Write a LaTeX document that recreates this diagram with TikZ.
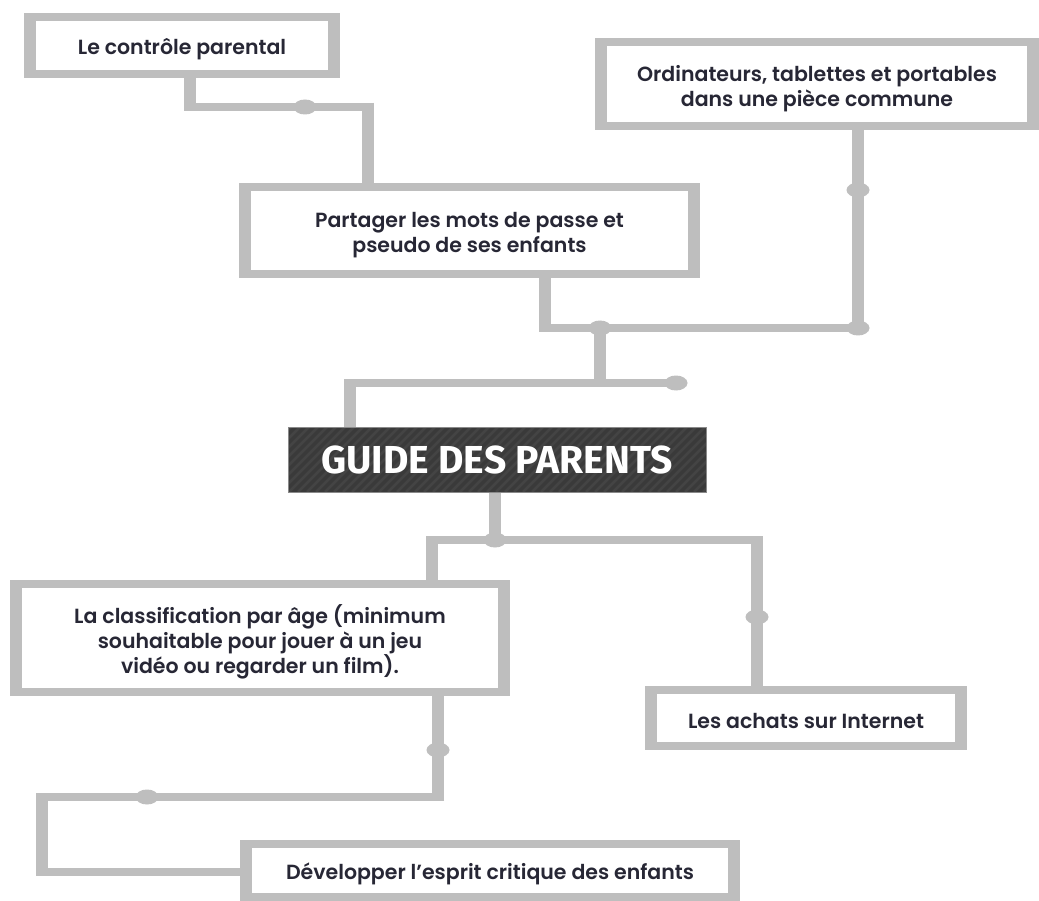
\documentclass[tikz,border=0pt]{standalone}
\usepackage{fontspec}
\setmainfont{Poppins}[BoldFont={Poppins SemiBold}]
\newfontfamily\titlefont{Fira Sans}
\usetikzlibrary{shapes.geometric}

\definecolor{linegray}{HTML}{BEBEBE}
\definecolor{ink}{HTML}{272735}
\definecolor{slate}{HTML}{3A3A3A}
\definecolor{slatestripe}{HTML}{444444}
\definecolor{slateedge}{HTML}{8A8A8A}

\tikzset{
  card/.style={fill=linegray, inner sep=0pt,
    path picture={\fill[white]
      ([xshift=12pt,yshift=-8pt]path picture bounding box.north west) rectangle
      ([xshift=-12pt,yshift=8pt]path picture bounding box.south east);}},
  cardtext/.style={inner sep=0pt, align=center, text=ink,
    font=\bfseries\fontsize{20.5}{25}\selectfont},
  banner/.style={fill=slate, draw=slateedge, line width=1pt, inner sep=0pt,
    text=white, font=\titlefont\bfseries\fontsize{39}{44}\selectfont,
    path picture={\foreach \s in {-80,-71,...,440}{
      \draw[slatestripe, line width=2.5pt]
        ([xshift=\s pt]path picture bounding box.south west) -- ++(80pt,80pt);}}},
  vseg/.style={draw=linegray, line width=12pt},
  hseg/.style={draw=linegray, line width=8pt},
  knob/.style={ellipse, fill=linegray, inner sep=0pt,
    minimum width=23pt, minimum height=15pt},
}

\begin{document}
\begin{tikzpicture}[x=1pt,y=-1pt]
\useasboundingbox (0,0) rectangle (1039,901);
\fill[white] (0,0) rectangle (1039,901);

% framed boxes and their captions
\node[card, minimum width=316pt, minimum height=65pt] (ctrl) at (182,45.5) {};
\node[cardtext] (ctrl-txt) at ([yshift=-4pt]ctrl.center)
  {Le contrôle parental};
\node[card, minimum width=461pt, minimum height=95pt] (share) at (469.5,230.5) {};
\node[cardtext] (share-txt) at ([yshift=-5pt]share.center)
  {Partager les mots de passe et\\pseudo de ses enfants};
\node[card, minimum width=444pt, minimum height=92pt] (screens) at (817,84) {};
\node[cardtext] (screens-txt) at ([yshift=-5pt]screens.center)
  {Ordinateurs, tablettes et portables\\dans une pièce commune};
\node[banner, minimum width=418pt, minimum height=65pt] (guide) at (497,459.5)
  {GUIDE DES PARENTS};
\node[card, minimum width=500pt, minimum height=116pt] (age) at (260,638) {};
\node[cardtext] (age-txt) at ([yshift=-4pt]age.center)
  {La classification par âge (minimum\\souhaitable pour jouer à un jeu\\vidéo ou regarder un film).};
\node[card, minimum width=322pt, minimum height=64pt] (web) at (806,718) {};
\node[cardtext] (web-txt) at ([yshift=-3pt]web.center)
  {Les achats sur Internet};
\node[card, minimum width=500pt, minimum height=61pt] (critic) at (490,870.5) {};
\node[cardtext] (critic-txt) at ([yshift=-3pt]critic.center)
  {Développer l’esprit critique des enfants};

% corners and junctions of the connectors
\coordinate (k1) at (190,107);
\coordinate (k2) at (368,107);
\coordinate (k3) at (545,328);
\coordinate (k4) at (858,328);
\coordinate (j2) at (600,328);
\coordinate (k5) at (600,383);
\coordinate (k6) at (350,383);
\coordinate (k7) at (676,383);
\coordinate (j3) at (495,540);
\coordinate (k8) at (432,540);
\coordinate (k9) at (757,540);
\coordinate (k10) at (438,797);
\coordinate (k11) at (42,797);
\coordinate (k12) at (42,872);

% parental control -> passwords
\draw[vseg, shorten >=-4pt] (ctrl.south -| k1) -- (k1);
\draw[hseg, shorten <=-6pt, shorten >=-6pt] (k1) -- (k2);
\draw[vseg, shorten <=-4pt] (k2) -- (share.north -| k2);
\node[knob] (d1) at (305,107) {};

% passwords and shared room -> trunk
\draw[vseg, shorten >=-4pt] (share.south -| k3) -- (k3);
\draw[hseg, shorten <=-6pt] (k3) -- (k4);
\draw[vseg] (screens.south -| k4) -- (k4);
\node[knob] (d2) at (858,190) {};
\node[knob] (d3) at (k4) {};
\node[knob] (d4) at (j2) {};

% trunk -> guide
\draw[vseg, shorten >=-4pt] (j2) -- (k5);
\draw[hseg, shorten <=-6pt] (k6) -- (k7);
\draw[vseg, shorten <=-4pt] (k6) -- (guide.north -| k6);
\node[knob] (d5) at (k7) {};

% guide -> age rating and online purchases
\draw[vseg] (guide.south -| j3) -- (j3);
\draw[hseg, shorten <=-6pt, shorten >=-6pt] (k8) -- (k9);
\draw[vseg, shorten <=-4pt] (k9) -- (web.north -| k9);
\draw[vseg, shorten <=-4pt] (k8) -- (age.north -| k8);
\node[knob] (d6) at (j3) {};
\node[knob] (d7) at (757,617) {};

% age rating -> critical thinking
\draw[vseg, shorten >=-4pt] (age.south -| k10) -- (k10);
\draw[hseg, shorten <=-6pt, shorten >=-6pt] (k10) -- (k11);
\draw[vseg, shorten <=-4pt, shorten >=-4pt] (k11) -- (k12);
\draw[hseg, shorten <=-6pt] (k12) -- (critic.west |- k12);
\node[knob] (d8) at (438,750) {};
\node[knob] (d9) at (147,797) {};
\end{tikzpicture}
\end{document}
